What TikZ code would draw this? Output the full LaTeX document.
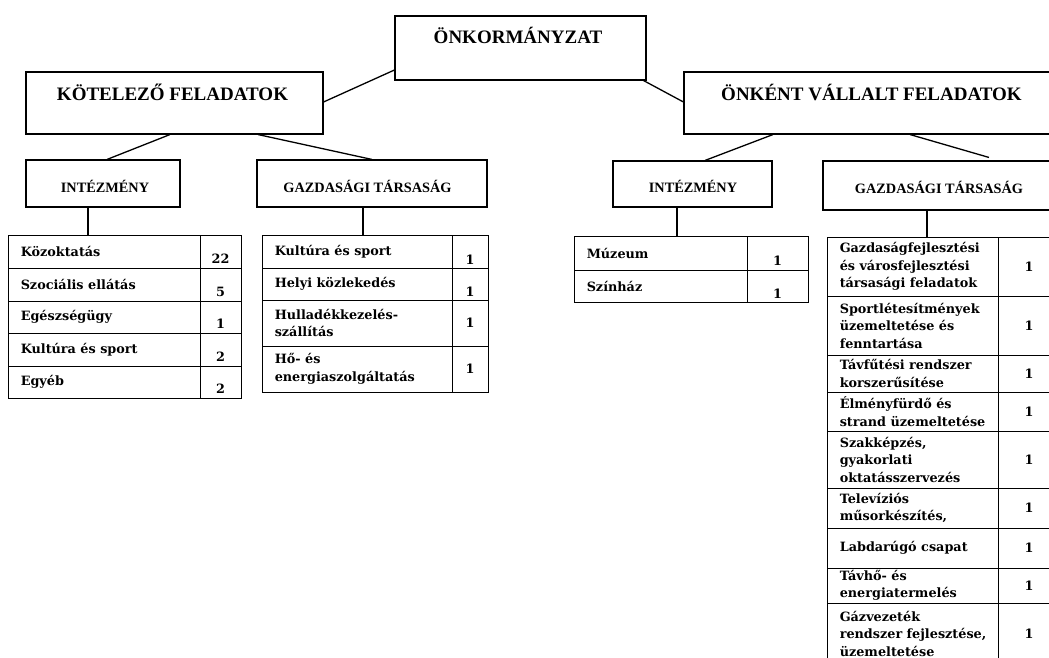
\documentclass[tikz,border=0pt]{standalone}
\usepackage{fontspec}
\setmainfont{Liberation Serif}
\newfontfamily\cellfont{DejaVu Serif}
\usetikzlibrary{calc}
\newcommand\trow[9]{%
 \pgfmathsetmacro\wa{#3-#2}\pgfmathsetmacro\wb{#4-#3}\pgfmathsetmacro\hh{#6-#5}%
 \pgfmathsetmacro\ca{(#2+#3)/2}\pgfmathsetmacro\cb{(#3+#4)/2}\pgfmathsetmacro\cy{(#5+#6)/2}%
 \node[cell, minimum width=\wa pt, minimum height=\hh pt] (#1) at (\ca,\cy) {};%
 \node[cell, minimum width=\wb pt, minimum height=\hh pt] (#1n) at (\cb,\cy) {};%
 \node[ctext, anchor=west] (#1t) at ([xshift=13pt]#1.west) {#7};%
 \node[ctext] (#1v) at ([yshift=-#9pt]#1n.center) {#8};%
}
\begin{document}
\begin{tikzpicture}[x=1pt,y=-1pt,
  box/.style={draw, line width=1.1pt, inner sep=0pt, rectangle},
  big/.style={font=\fontsize{19}{22}\selectfont\bfseries, inner sep=0pt, anchor=base},
  small/.style={font=\fontsize{14.3}{16}\selectfont\bfseries, inner sep=0pt, anchor=base},
  cell/.style={draw, line width=0.9pt, inner sep=0pt},
  ctext/.style={inner sep=0pt, align=left, font=\cellfont\bfseries\fontsize{12.8}{17.5}\selectfont},
  conn/.style={line width=1.3pt}]
\useasboundingbox (0,0) rectangle (1049,658);
\fill[white] (0,0) rectangle (1049,658);
\clip (0,0) rectangle (1049,658);
% header boxes
\node[box, minimum width=251pt, minimum height=64pt] (onk) at (520.5,48) {};
\node[box, minimum width=297pt, minimum height=62pt] (kot) at (174.5,103) {};
\node[box, minimum width=376pt, minimum height=62pt] (onv) at (872,103) {};
\node[box, minimum width=154pt, minimum height=47pt] (int1) at (103,183.5) {};
\node[box, minimum width=230pt, minimum height=47pt] (gaz1) at (372,183.5) {};
\node[box, minimum width=159pt, minimum height=46pt] (int2) at (692.5,184) {};
\node[box, minimum width=232pt, minimum height=49pt] (gaz2) at (939,185.5) {};
% header texts
\node[big] (onkt) at (518,44) {ÖNKORMÁNYZAT};
\node[big] (kott) at (172.5,101) {KÖTELEZŐ FELADATOK};
\node[big] (onvt) at (871.5,101) {ÖNKÉNT VÁLLALT FELADATOK};
\node[small] (int1t) at (105,192) {INTÉZMÉNY};
\node[small] (gaz1t) at (367.5,192) {GAZDASÁGI TÁRSASÁG};
\node[small] (int2t) at (693,192) {INTÉZMÉNY};
\node[small] (gaz2t) at (939,193) {GAZDASÁGI TÁRSASÁG};
% connectors between header boxes
\draw[conn] ([yshift=-22pt]onk.west) -- ([yshift=1pt]kot.east);
\draw[conn] ([xshift=-3pt]onk.south east) -- ([yshift=1pt]onv.west);
\draw[conn] ([xshift=-4.5pt]kot.south) -- ([xshift=4pt]int1.north);
\draw[conn] ([xshift=83.5pt]kot.south) -- (gaz1.north);
\draw[conn] ([xshift=-99pt]onv.south) -- ([xshift=12.5pt]int2.north);
\draw[conn] ([xshift=38pt]onv.south) -- ([xshift=50pt,yshift=3pt]gaz2.north);
% table 1
\trow{ta}{8}{200}{241}{235}{268}{Közoktatás}{22}{7}
\trow{tb}{8}{200}{241}{268}{301}{Szociális ellátás}{5}{7}
\trow{tc}{8}{200}{241}{301}{333}{Egészségügy}{1}{7}
\trow{td}{8}{200}{241}{333}{366}{Kultúra és sport}{2}{7}
\trow{te}{8}{200}{241}{366}{398}{Egyéb}{2}{7}
% table 2
\trow{ua}{262}{452}{488}{235}{268}{Kultúra és sport}{1}{8}
\trow{ub}{262}{452}{488}{268}{300}{Helyi közlekedés}{1}{8}
\trow{uc}{262}{452}{488}{300}{346}{Hulladékkezelés-\\szállítás}{1}{0}
\trow{ud}{262}{452}{488}{346}{392}{Hő- és\\energiaszolgáltatás}{1}{0}
% table 3
\trow{va}{574}{747}{808}{236}{270}{Múzeum}{1}{8}
\trow{vb}{574}{747}{808}{270}{302}{Színház}{1}{8}
% table 4
\trow{wa}{827}{998}{1060}{237}{296}{Gazdaságfejlesztési\\és városfejlesztési\\társasági feladatok}{1}{0}
\trow{wb}{827}{998}{1060}{296}{355}{Sportlétesítmények\\üzemeltetése és\\fenntartása}{1}{0}
\trow{wc}{827}{998}{1060}{355}{392}{Távfűtési rendszer\\korszerűsítése}{1}{0}
\trow{wd}{827}{998}{1060}{392}{431}{Élményfürdő és\\strand üzemeltetése}{1}{0}
\trow{we}{827}{998}{1060}{431}{488}{Szakképzés,\\gyakorlati\\oktatásszervezés}{1}{0}
\trow{wf}{827}{998}{1060}{488}{528}{Televíziós\\műsorkészítés,}{1}{0}
\trow{wg}{827}{998}{1060}{528}{568}{Labdarúgó csapat}{1}{0}
\trow{wh}{827}{998}{1060}{568}{603}{Távhő- és\\energiatermelés}{1}{0}
\trow{wi}{827}{998}{1060}{603}{664}{Gázvezeték\\rendszer fejlesztése,\\üzemeltetése}{1}{0}
% vertical connectors to tables
\draw[conn] ([xshift=-15pt]int1.south) -- ([xshift=-15pt]int1.south |- ta.north);
\draw[conn] ([xshift=-9pt]gaz1.south) -- ([xshift=-9pt]gaz1.south |- ua.north);
\draw[conn] ([xshift=-15.5pt]int2.south) -- ([xshift=-15.5pt]int2.south |- va.north);
\draw[conn] ([xshift=-12pt]gaz2.south) -- ([xshift=-12pt]gaz2.south |- wa.north);
\end{tikzpicture}
\end{document}
